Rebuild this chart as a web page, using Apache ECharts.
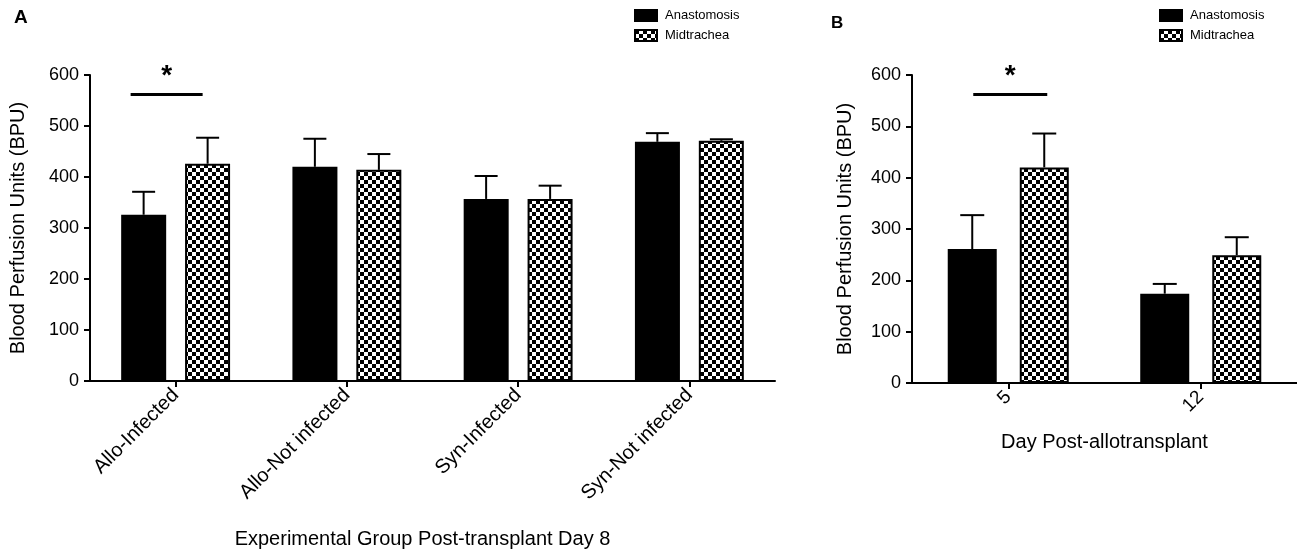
<!DOCTYPE html>
<html>
<head>
<meta charset="utf-8">
<script src="https://cdn.jsdelivr.net/npm/echarts@6/dist/echarts.min.js"></script>
<style>html,body{margin:0;padding:0;background:#fff;}#c{width:1297px;height:554px;}</style>
</head>
<body>
<div id="c"></div>
<script>
// ---- data ----
const catsA = ['Allo-Infected', 'Allo-Not infected', 'Syn-Infected', 'Syn-Not infected'];
const anastA = [326, 420, 357, 469];
const anastErrA = [45, 55, 45, 17];
const midA = [426, 414, 357, 471];
const midErrA = [51, 31, 26, 3];

const catsB = ['5', '12'];
const anastB = [261, 174];
const anastErrB = [66, 19];
const midB = [420, 249];
const midErrB = [66, 35];

const yMin = 0, yMax = 600, yStep = 100;
const sigA = [0, 562];   // [category index, bracket value]
const sigB = [0, 562];

const FONT = 'Liberation Sans, Arial, sans-serif';

function makePattern() {
  const c = document.createElement('canvas');
  c.width = 8; c.height = 8;
  const g = c.getContext('2d');
  g.fillStyle = '#fff'; g.fillRect(0, 0, 8, 8);
  g.fillStyle = '#000';
  g.fillRect(0, 0, 4, 4); g.fillRect(4, 4, 4, 4);
  return c;
}
const checker = { image: makePattern(), repeat: 'repeat' };

function errSeries(name, vals, errs, xi, yi, offset, cap) {
  return {
    type: 'custom', name: name, xAxisIndex: xi, yAxisIndex: yi, z: 5,
    data: vals.map((v, i) => [i, v, errs[i]]),
    encode: { x: 0, y: 1 },
    renderItem: function (params, api) {
      const b = api.coord([api.value(0), api.value(1)]);
      const t = api.coord([api.value(0), api.value(1) + api.value(2)]);
      const x = b[0] + offset;
      const st = { stroke: '#000', lineWidth: 2 };
      return {
        type: 'group', children: [
          { type: 'line', shape: { x1: x, y1: b[1], x2: x, y2: t[1] }, style: st },
          { type: 'line', shape: { x1: x - cap / 2, y1: t[1], x2: x + cap / 2, y2: t[1] }, style: st }
        ]
      };
    }
  };
}

function sigSeries(sig, xi, yi, from, to, starDx) {
  return {
    type: 'custom', xAxisIndex: xi, yAxisIndex: yi, z: 6,
    data: [sig],
    encode: { x: 0, y: 1 },
    renderItem: function (params, api) {
      const p = api.coord([api.value(0), api.value(1)]);
      return {
        type: 'group', children: [
          { type: 'line', shape: { x1: p[0] + from, y1: p[1], x2: p[0] + to, y2: p[1] }, style: { stroke: '#000', lineWidth: 3 } },
          { type: 'text', x: p[0] + starDx, y: p[1] - 4, style: { text: '*', fill: '#000', font: 'bold 28px ' + FONT, textAlign: 'center', textVerticalAlign: 'bottom' } }
        ]
      };
    }
  };
}

function yAxisCfg(gi, gap) {
  return {
    gridIndex: gi, type: 'value', min: yMin, max: yMax, interval: yStep,
    name: 'Blood Perfusion Units (BPU)', nameLocation: 'middle', nameRotate: 90, nameGap: gap,
    nameTextStyle: { fontFamily: FONT, fontSize: 20, color: '#000' },
    axisLine: { show: true, lineStyle: { color: '#000', width: 2 } },
    axisTick: { show: true, length: 6, lineStyle: { color: '#000', width: 2 } },
    axisLabel: { fontFamily: FONT, fontSize: 18, color: '#000', margin: 11 },
    splitLine: { show: false }
  };
}

function xAxisCfg(gi, cats, name, gap, lblSize, namePad) {
  return {
    gridIndex: gi, type: 'category', data: cats,
    name: name, nameLocation: 'middle', nameGap: gap,
    nameTextStyle: { fontFamily: FONT, fontSize: 20, color: '#000', padding: namePad },
    axisLine: { show: true, lineStyle: { color: '#000', width: 2 } },
    axisTick: { show: true, alignWithLabel: true, length: 6, lineStyle: { color: '#000', width: 2 } },
    axisLabel: { fontFamily: FONT, fontSize: lblSize, color: '#000', rotate: 45, margin: 11, interval: 0 },
    splitLine: { show: false }
  };
}

const barStyleSolid = { color: '#000', borderColor: '#000', borderWidth: 2 };
const barStyleCheck = { color: checker, borderColor: '#000', borderWidth: 2 };

const legendCfg = (left) => ({
  orient: 'vertical', left: left, top: 9, padding: 0, itemGap: 7,
  itemWidth: 22, itemHeight: 11, icon: 'rect',
  data: ['Anastomosis', 'Midtrachea'],
  textStyle: { fontFamily: FONT, fontSize: 13, color: '#000', padding: [0, 0, 0, 3] },
  selectedMode: false
});

const option = {
  animation: false,
  backgroundColor: '#fff',
  title: [
    { text: 'A', left: 14, top: 8, textStyle: { fontFamily: FONT, fontSize: 19, fontWeight: 'bold', color: '#000' }, padding: 0 },
    { text: 'B', left: 831, top: 15, textStyle: { fontFamily: FONT, fontSize: 17, fontWeight: 'bold', color: '#000' }, padding: 0 }
  ],
  legend: [legendCfg(634), legendCfg(1159)],
  grid: [
    { left: 90, top: 75, width: 685, height: 307, containLabel: false },
    { left: 912, top: 75, width: 385, height: 308, containLabel: false }
  ],
  xAxis: [
    xAxisCfg(0, catsA, 'Experimental Group Post-transplant Day 8', 148, 20, [0, 20, 0, 0]),
    xAxisCfg(1, catsB, 'Day Post-allotransplant', 49, 19, 0)
  ],
  yAxis: [yAxisCfg(0, 62), yAxisCfg(1, 57)],
  series: [
    { type: 'bar', name: 'Anastomosis', xAxisIndex: 0, yAxisIndex: 0, data: anastA, barWidth: 45, barGap: '42%', itemStyle: barStyleSolid },
    { type: 'bar', name: 'Midtrachea', xAxisIndex: 0, yAxisIndex: 0, data: midA, barWidth: 45, barGap: '42%', itemStyle: barStyleCheck },
    { type: 'bar', name: 'Anastomosis', xAxisIndex: 1, yAxisIndex: 1, data: anastB, barWidth: 49, barGap: '47%', itemStyle: barStyleSolid },
    { type: 'bar', name: 'Midtrachea', xAxisIndex: 1, yAxisIndex: 1, data: midB, barWidth: 49, barGap: '47%', itemStyle: barStyleCheck },
    errSeries('errA1', anastA, anastErrA, 0, 0, -32, 23),
    errSeries('errA2', midA, midErrA, 0, 0, 32, 23),
    errSeries('errB1', anastB, anastErrB, 1, 1, -36, 24),
    errSeries('errB2', midB, midErrB, 1, 1, 36, 24),
    sigSeries(sigA, 0, 0, -45, 27, -9),
    sigSeries(sigB, 1, 1, -35, 39, 2)
  ]
};

const chart = echarts.init(document.getElementById('c'), null, { renderer: 'canvas' });
chart.setOption(option);
</script>
</body>
</html>
